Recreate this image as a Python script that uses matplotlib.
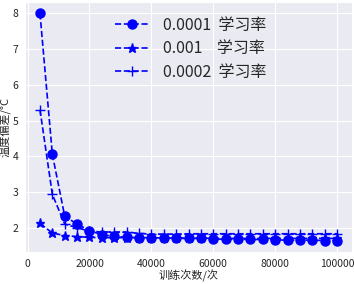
import matplotlib
matplotlib.use("Agg")
import matplotlib.pyplot as plt
import seaborn as sns

steps = [4000 * (i + 1) for i in range(25)]
lr_0001 = [8.0, 4.05, 2.32, 2.1, 1.92, 1.8, 1.76, 1.73, 1.72, 1.72, 1.71, 1.70, 1.70,
           1.70, 1.68, 1.68, 1.68, 1.67, 1.67, 1.66, 1.65, 1.65, 1.65, 1.64, 1.64]
lr_001 = [2.12, 1.85, 1.78, 1.75, 1.73, 1.72, 1.72, 1.72, 1.72, 1.72, 1.71, 1.71, 1.71,
          1.71, 1.70, 1.70, 1.70, 1.70, 1.70, 1.70, 1.70, 1.70, 1.70, 1.70, 1.70]
lr_0002 = [5.3, 2.93, 2.1, 2.0, 1.9, 1.88, 1.88, 1.88, 1.84, 1.82, 1.82, 1.82, 1.83,
           1.83, 1.83, 1.83, 1.83, 1.83, 1.83, 1.83, 1.83, 1.83, 1.83, 1.83, 1.83]
labels = ["0.0001  学习率", "0.001    学习率", "0.0002  学习率"]

sns.set_style("darkgrid")
plt.rcParams['font.family'] = ['Noto Sans CJK SC', 'DejaVu Sans']
plt.rcParams['axes.unicode_minus'] = False

fig, ax = plt.subplots(figsize=(3.54, 2.84), dpi=100)
ax.plot(steps, lr_0001, "b--o", ms=6.5, lw=1.2, label=labels[0])
ax.plot(steps, lr_001, "b--*", ms=6.5, lw=1.2, label=labels[1])
ax.plot(steps, lr_0002, "b--+", ms=6.5, lw=1.2, label=labels[2])

ax.set_xlabel("训练次数/次", fontsize=8, labelpad=1)
ax.set_ylabel("温度偏差/°C", fontsize=8, labelpad=1)
ax.tick_params(labelsize=7.5, pad=1.5)
ax.set_xticks([0, 20000, 40000, 60000, 80000, 100000])
ax.legend(loc="upper left", bbox_to_anchor=(0.24, 0.985), fontsize=11.5, frameon=False,
          handlelength=2.2, labelspacing=0.4, borderaxespad=0.3)

fig.subplots_adjust(left=0.071, right=0.994, top=0.993, bottom=0.113)
fig.savefig("out.png", dpi=100)
